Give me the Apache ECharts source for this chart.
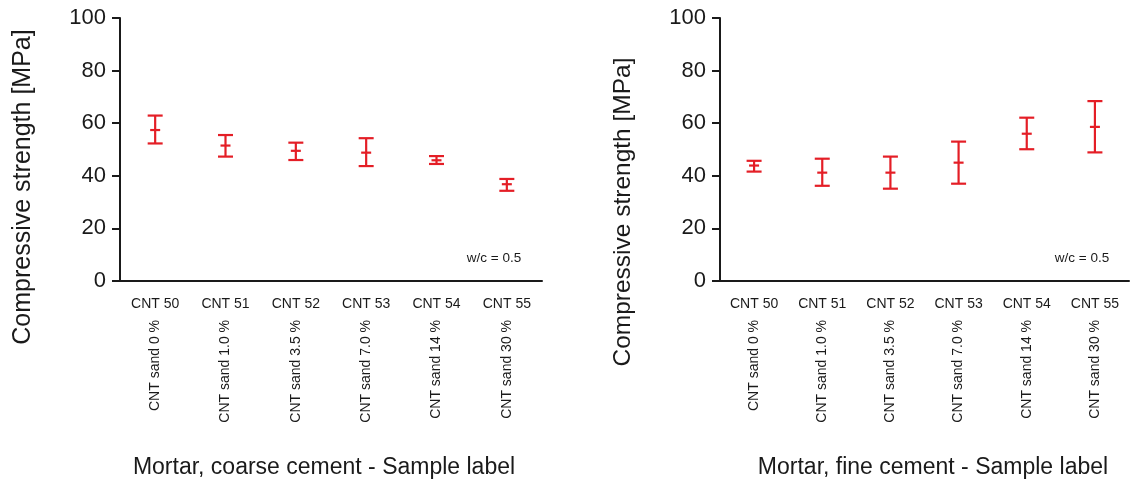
<!DOCTYPE html>
<html>
<head>
<meta charset="utf-8">
<script src="https://cdn.jsdelivr.net/npm/echarts@6/dist/echarts.min.js"></script>
<style>
    html, body { margin: 0; padding: 0; background: #fff; }
    #chart { width: 1139px; height: 485px; }
</style>
</head>
<body>
<div id="chart"></div>
<script>
const categories = ['CNT 50', 'CNT 51', 'CNT 52', 'CNT 53', 'CNT 54', 'CNT 55'];
const sandLabels = ['CNT sand 0 %', 'CNT sand 1.0 %', 'CNT sand 3.5 %', 'CNT sand 7.0 %', 'CNT sand 14 %', 'CNT sand 30 %'];
const yTicks = [0, 20, 40, 60, 80, 100];

// coarse cement (left)
const coarseMean = [57.4, 51.5, 49.5, 48.8, 45.9, 36.8];
const coarseLow = [52.3, 47.3, 46.0, 43.7, 44.5, 34.3];
const coarseHigh = [62.9, 55.5, 52.6, 54.3, 47.5, 38.8];

// fine cement (right)
const fineMean = [43.9, 41.2, 41.2, 45.0, 56.0, 58.6];
const fineLow = [41.6, 36.2, 35.1, 37.0, 50.1, 48.9];
const fineHigh = [45.7, 46.5, 47.3, 53.0, 62.1, 68.4];

const RED = '#e41e26';
const FONT = "'Liberation Sans', Arial, sans-serif";
const INK = '#1a1a1a';

function toRows(low, mean, high) {
    return mean.map((m, i) => [i, low[i], m, high[i]]);
}

function renderErrorBar(params, api) {
    let x = api.value(0);
    let low = api.coord([x, api.value(1)]);
    let mean = api.coord([x, api.value(2)]);
    let high = api.coord([x, api.value(3)]);
    let cap = 7.5, mid = 5;
    let style = { stroke: RED, lineWidth: 2.2 };
    return {
        type: 'group',
        children: [
            { type: 'line', shape: { x1: high[0], y1: high[1], x2: low[0], y2: low[1] }, style },
            { type: 'line', shape: { x1: high[0] - cap, y1: high[1], x2: high[0] + cap, y2: high[1] }, style },
            { type: 'line', shape: { x1: low[0] - cap, y1: low[1], x2: low[0] + cap, y2: low[1] }, style },
            { type: 'line', shape: { x1: mean[0] - mid, y1: mean[1], x2: mean[0] + mid, y2: mean[1] }, style }
        ]
    };
}

function catAxis(gridIndex) {
    return {
        type: 'category',
        gridIndex,
        position: 'bottom',
        data: categories,
        axisLine: { lineStyle: { color: INK, width: 2 } },
        axisTick: { alignWithLabel: true, length: 8, lineStyle: { color: INK, width: 2 } },
        axisLabel: { margin: 16, fontSize: 14, color: INK, fontFamily: FONT, interval: 0 }
    };
}

function sandAxis(gridIndex) {
    return {
        type: 'category',
        gridIndex,
        position: 'bottom',
        data: sandLabels,
        axisLine: { show: false },
        axisTick: { show: false },
        axisLabel: { rotate: 90, margin: 39, fontSize: 14, color: INK, fontFamily: FONT, interval: 0 }
    };
}

function valAxis(gridIndex) {
    return {
        type: 'value',
        gridIndex,
        min: yTicks[0],
        max: yTicks[yTicks.length - 1],
        interval: 20,
        splitLine: { show: false },
        axisLine: { show: true, lineStyle: { color: INK, width: 2 } },
        axisTick: { show: true, length: 8, lineStyle: { color: INK, width: 2 } },
        axisLabel: { margin: 14, fontSize: 22, color: INK, fontFamily: FONT }
    };
}

function label(text, x, y, size, rotate) {
    return {
        type: 'text',
        x, y,
        rotation: rotate ? Math.PI / 2 : 0,
        style: {
            text,
            fontSize: size,
            fontFamily: FONT,
            fill: INK,
            align: 'center',
            verticalAlign: 'middle'
        }
    };
}

let chart = echarts.init(document.getElementById('chart'));
chart.setOption({
    animation: false,
    grid: [
        { left: 120, top: 18, width: 422, height: 263 },
        { left: 720, top: 18, width: 409, height: 263 }
    ],
    xAxis: [catAxis(0), sandAxis(0), catAxis(1), sandAxis(1)],
    yAxis: [valAxis(0), valAxis(1)],
    series: [
        {
            type: 'custom',
            xAxisIndex: 0,
            yAxisIndex: 0,
            renderItem: renderErrorBar,
            encode: { x: 0, y: [1, 2, 3] },
            data: toRows(coarseLow, coarseMean, coarseHigh)
        },
        {
            type: 'custom',
            xAxisIndex: 2,
            yAxisIndex: 1,
            renderItem: renderErrorBar,
            encode: { x: 0, y: [1, 2, 3] },
            data: toRows(fineLow, fineMean, fineHigh)
        }
    ],
    graphic: [
        label('Compressive strength [MPa]', 23, 187, 25, true),
        label('Compressive strength [MPa]', 623, 212, 24.5, true),
        label('Mortar, coarse cement - Sample label', 324, 468, 23, false),
        label('Mortar, fine cement - Sample label', 933, 468, 23, false),
        label('w/c = 0.5', 494, 258, 13.5, false),
        label('w/c = 0.5', 1082, 258, 13.5, false)
    ]
});
</script>
</body>
</html>
